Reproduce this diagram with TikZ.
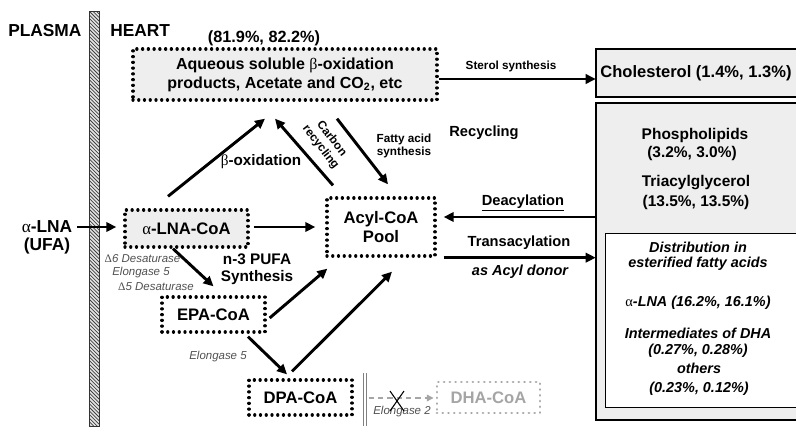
\documentclass[tikz,border=0pt]{standalone}
\usepackage{fontspec}
\setmainfont{Liberation Sans}
\newfontfamily\grk{Liberation Serif}
\usetikzlibrary{arrows.meta,calc}
\definecolor{boxfill}{RGB}{238,238,238}
\definecolor{labgray}{RGB}{80,80,80}
\definecolor{dhagray}{RGB}{165,165,165}
\newcommand\fz[2]{\fontsize{#1pt}{#2pt}\selectfont}
\newcommand\ga{{\grk\mdseries\upshape α}}
\begin{document}
\begin{tikzpicture}[x=0.75pt,y=-0.75pt,
  arr/.style={line width=2.2pt,-{Triangle[length=7.5pt,width=7pt]}},
  dotbox/.style={draw, line width=2.5pt, line cap=round, dash pattern=on 0.01pt off 4.3pt, inner sep=0pt, align=center, font=\bfseries\fz{12.5}{15}},
  lab/.style={font=\bfseries\fz{11}{13}, align=center},
  small/.style={font=\bfseries\fz{8.8}{10}, align=center},
  ital/.style={font=\itshape\fz{8.6}{10}, text=labgray},
  inner/.style={font=\bfseries\itshape\fz{10.8}{13}},
  big/.style={font=\bfseries\fz{11.6}{14}}]
\useasboundingbox (0,0) rectangle (796,426);

% membrane bar
\begin{scope}
  \clip (89,11) rectangle (99,426);
  \fill[gray!20] (89,11) rectangle (99,426);
  \foreach \i in {-4,...,118}
    \draw[line width=0.55pt, black!75] (89,{11+3.6*\i}) -- (99,{21+3.6*\i});
\end{scope}
\draw[line width=0.6pt, black!80] (89,11) rectangle (99,426);

% headings
\node[font=\bfseries\fz{13}{15}, anchor=west, inner sep=0pt] (plasma) at (8,31) {PLASMA};
\node[font=\bfseries\fz{13}{15}, anchor=west, inner sep=0pt] (heart) at (110,31) {HEART};
\node[font=\bfseries\fz{12.2}{14}, inner sep=0pt] (pct) at (264,38) {(81.9\%, 82.2\%)};

% boxes
\node[dotbox, fill=boxfill, minimum width=228pt, minimum height=38.25pt, font=\bfseries\fz{12}{14.25}] (aq) at (285,74.5)
  {Aqueous soluble {\grk\mdseries β}-oxidation\\products, Acetate and CO\textsubscript{2}, etc};

\node[fill=boxfill, minimum width=150pt, minimum height=36pt, inner sep=0pt, font=\bfseries\fz{12.4}{15}] (chol) at (696,73)
  {Cholesterol (1.4\%, 1.3\%)};
\draw[line width=1.5pt] (chol.north east) -- (chol.north west) -- (chol.south west) -- (chol.south east);

\node[fill=boxfill, minimum width=150pt, minimum height=237.75pt, inner sep=0pt] (lipid) at (696,261.5) {};
\draw[line width=1.5pt] (lipid.north east) -- (lipid.north west) -- (lipid.south west) -- (lipid.south east);
\node[fill=white, minimum width=142.5pt, minimum height=129.75pt, inner sep=0pt] (dist) at (701,320.5) {};
\draw[line width=1.1pt] (dist.north east) -- (dist.north west) -- (dist.south west) -- (dist.south east);

\node[big] (pl) at (695,135) {Phospholipids};
\node[big] (plv) at (692,153) {(3.2\%, 3.0\%)};
\node[big] (tag) at (696,183) {Triacylglycerol};
\node[big] (tagv) at (696,202) {(13.5\%, 13.5\%)};

\node[inner] (d1) at (698,247) {Distribution in};
\node[inner] (d2) at (698,264) {esterified fatty acids};
\node[inner] (d3) at (698,303) {\ga-LNA (16.2\%, 16.1\%)};
\node[inner] (d4) at (698,333) {Intermediates of DHA};
\node[inner] (d5) at (698,351) {(0.27\%, 0.28\%)};
\node[inner] (d6) at (699,368) {others};
\node[inner] (d7) at (699,389) {(0.23\%, 0.12\%)};

\node[dotbox, minimum width=81pt, minimum height=43.5pt, font=\bfseries\fz{12.5}{14.5}] (pool) at (381,227) {Acyl-CoA\\Pool};
\node[dotbox, fill=boxfill, minimum width=92.25pt, minimum height=27.75pt] (alnacoa) at (186.5,228.5) {\ga-LNA-CoA};
\node[dotbox, minimum width=77.25pt, minimum height=26.25pt] (epa) at (213.5,314.5) {EPA-CoA};
\node[dotbox, minimum width=77.25pt, minimum height=26.25pt] (dpa) at (300.5,397.5) {DPA-CoA};
\node[dotbox, draw=dhagray, text=dhagray, line width=2.2pt, minimum width=77.25pt, minimum height=23.25pt] (dha) at (488.5,397.5) {DHA-CoA};

\node[font=\bfseries\fz{13}{13.5}, align=center] (ufa) at (47,237) {\ga-LNA\\(UFA)};

% labels
\node[small] (sterol) at (511,66) {Sterol synthesis};
\node[lab] (recyc) at (484,133) {Recycling};
\node[lab] (deac) at (523,203) {\underline{Deacylation}};
\node[lab] (trans) at (519,243) {Transacylation};
\node[lab, font=\bfseries\itshape\fz{10.9}{13}] (donor) at (520,272) {as Acyl donor};
\node[lab, font=\bfseries\fz{11.4}{13}] (boxid) at (261,162) {{\grk\mdseries β}-oxidation};
\node[small, font=\bfseries\fz{8.8}{10.5}, rotate=-52, inner sep=0pt] (carb) at (326,143) {Carbon\\recycling};
\node[small, font=\bfseries\fz{8.8}{9.75}] (fas) at (404,146) {Fatty acid\\synthesis};
\node[lab, font=\bfseries\fz{11.5}{12.75}] (n3) at (257,269.5) {n-3 PUFA\\Synthesis};
\node[ital] (d6lab) at (142.5,259) {{\grk\upshape Δ}6 Desaturase};
\node[ital] (el5a) at (141,273) {Elongase 5};
\node[ital] (d5lab) at (156,286.5) {{\grk\upshape Δ}5 Desaturase};
\node[ital] (el5b) at (218,357) {Elongase 5};
\node[ital] (el2) at (402,412) {Elongase 2};

% arrows
\coordinate (ufaout) at (77,227);
\draw[arr] (ufaout) -- ($(alnacoa.west)+(-7,-1.5)$);
\draw[arr] ($(alnacoa.east)+(4,-1.5)$) -- ($(pool.west)+(-10,0)$);
\draw[arr] ($(alnacoa.north)+(-18.5,-12)$) -- ($(aq.south)+(-20,17)$);
\draw[arr] ($(pool.north)+(-48,-11)$) -- ($(aq.south)+(-10,17)$);
\draw[arr] ($(aq.south)+(52,17)$) -- ($(pool.north)+(7,-12)$);
\draw[arr] ($(aq.east)+(0,4.5)$) -- ($(chol.west)+(0,6)$);
\draw[arr] ($(alnacoa.south)+(-13.5,0)$) -- ($(epa.north)+(0,-9)$);
\draw[arr] ($(epa.east)+(3,3.5)$) -- ($(pool.south west)+(2,11)$);
\draw[arr] ($(epa.south)+(34.5,3)$) -- ($(dpa.north)+(-13.5,-4)$);
\draw[arr] ($(dpa.north)+(-8.5,-7)$) -- ($(pool.south)+(11,14)$);
\coordinate (deacT) at ($(pool.east)+(7,-10)$);
\draw[arr] (lipid.west |- deacT) -- (deacT);
\coordinate (transS) at ($(pool.south east)+(7,0)$);
\draw[arr] (transS) -- (lipid.west |- transS);

% blocked step DPA -> DHA
\draw[gray, line width=0.8pt] ($(dpa.east)+(10,-24.5)$) -- ($(dpa.east)+(10,28.5)$);
\draw[gray, line width=0.8pt] ($(dpa.east)+(13,-24.5)$) -- ($(dpa.east)+(13,28.5)$);
\draw[dhagray, line width=1pt, dash pattern=on 4pt off 3pt, -{Triangle[length=5pt,width=5pt]}] ($(dpa.east)+(15,0.5)$) -- ($(dha.west)+(-2,0.5)$);
\coordinate (xm) at (397,401);
\draw[line width=0.8pt] ($(xm)+(-7,-10)$) -- ($(xm)+(7,10)$);
\draw[line width=0.8pt] ($(xm)+(-7,10)$) -- ($(xm)+(7,-10)$);
\end{tikzpicture}
\end{document}
